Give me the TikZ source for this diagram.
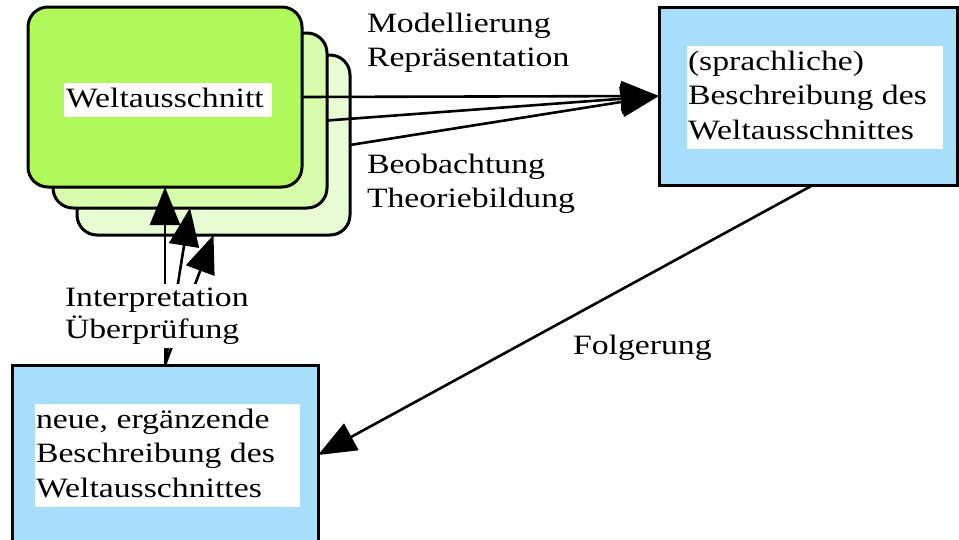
\documentclass[tikz,border=0pt]{standalone}
\usepackage{fontspec}
\setmainfont{Liberation Serif}[FakeStretch=1.205]
\usetikzlibrary{arrows.meta}
\definecolor{gA}{RGB}{178,250,92}
\definecolor{gB}{RGB}{214,252,172}
\definecolor{gC}{RGB}{232,253,212}
\definecolor{bl}{RGB}{166,222,252}
\tikzset{
 wbox/.style={draw=black, line width=3pt, rounded corners=20pt, inner sep=0pt, outer sep=0pt},
 sbox/.style={draw=black, line width=3pt, fill=bl, inner sep=0pt, outer sep=0pt},
 txt/.style={inner sep=0pt, outer sep=0pt, anchor=base west, font=\fontsize{28pt}{34.5pt}\selectfont},
 conn/.style={line width=2.6pt, -{Triangle[length=38pt,width=30pt]}},
}
\begin{document}
\begin{tikzpicture}[x=1pt,y=-1pt]
\useasboundingbox (0,0) rectangle (959,539);
\clip (0,0) rectangle (959,539);
% stacked world boxes
\node[wbox, fill=gC, minimum width=273pt, minimum height=180pt] (box3) at (213.5,145) {};
\node[wbox, fill=gB, minimum width=274pt, minimum height=175pt] (box2) at (190,120.5) {};
\node[wbox, fill=gA, minimum width=274pt, minimum height=180pt] (box1) at (165,97) {};
\node[txt, fill=white] (wlab) at (64,107) {\begin{tabular}[t]{@{\hspace{2pt}}p{206pt}@{}}Weltausschnitt\end{tabular}};
% description boxes
\node[sbox, minimum width=298pt, minimum height=178pt] (rbox) at (808,96) {};
\node[txt, fill=white] (rlab) at (687,70) {\begin{tabular}[t]{@{\hspace{1pt}}p{255pt}@{}}(sprachliche)\\Beschreibung des\\Weltausschnittes\end{tabular}};
\node[sbox, minimum width=306pt, minimum height=180pt] (lbox) at (165,455) {};
\node[txt, fill=white] (llab) at (35,428) {\begin{tabular}[t]{@{\hspace{1pt}}p{264pt}@{}}neue, ergänzende\\Beschreibung des\\Weltausschnittes\end{tabular}};
% labels
\node[txt] (mlab) at (367,32) {\begin{tabular}[t]{@{}l@{}}Modellierung\\Repräsentation\end{tabular}};
\node[txt] (olab) at (367,173) {\begin{tabular}[t]{@{}l@{}}Beobachtung\\Theoriebildung\end{tabular}};
\node[txt] (flab) at (573,354) {Folgerung};
% connectors
\draw[conn] (box1.east) -- (rbox.west);
\draw[conn] (box2.east) -- (rbox.west);
\draw[conn] (box3.east) -- (rbox.west);
\draw[conn] ([xshift=5pt]rbox.south) -- (lbox.east);
\draw[conn] (lbox.north) -- (box1.south);
\draw[conn] (lbox.north) -- (box2.south);
\draw[conn] (lbox.north) -- (box3.south);
\node[txt, fill=white] (ilab) at (65,306) {\renewcommand{\arraystretch}{0.928}\begin{tabular}[t]{@{}l@{\hspace{2pt}}}Interpretation\\Überprüfung\end{tabular}};
\end{tikzpicture}
\end{document}
